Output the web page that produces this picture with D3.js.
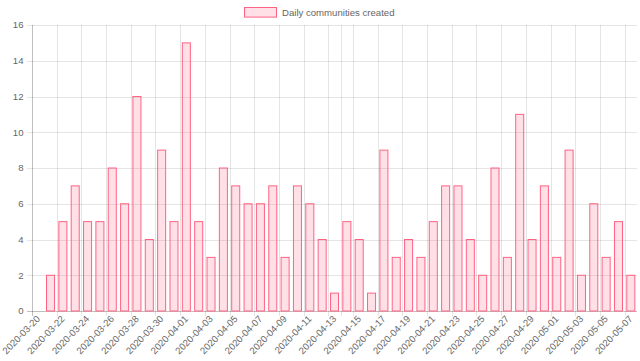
<!DOCTYPE html>
<html>
<head>
<meta charset="utf-8">
<script src="https://cdn.jsdelivr.net/npm/d3@7"></script>
<style>
  html, body { margin: 0; padding: 0; background: #fff; }
  svg { display: block; font-family: "Liberation Sans", Arial, Helvetica, sans-serif; }
</style>
</head>
<body>
<svg id="chart" width="640" height="361"></svg>
<script>
// ---- data ----
const dates = [
  "2020-03-20","2020-03-21","2020-03-22","2020-03-23","2020-03-24","2020-03-25","2020-03-26",
  "2020-03-27","2020-03-28","2020-03-29","2020-03-30","2020-03-31","2020-04-01","2020-04-02",
  "2020-04-03","2020-04-04","2020-04-05","2020-04-06","2020-04-07","2020-04-08","2020-04-09",
  "2020-04-10","2020-04-11","2020-04-12","2020-04-13","2020-04-14","2020-04-15","2020-04-16",
  "2020-04-17","2020-04-18","2020-04-19","2020-04-20","2020-04-21","2020-04-22","2020-04-23",
  "2020-04-24","2020-04-25","2020-04-26","2020-04-27","2020-04-28","2020-04-29","2020-04-30",
  "2020-05-01","2020-05-02","2020-05-03","2020-05-04","2020-05-05","2020-05-06","2020-05-07"
];
const values = [
  0, 2, 5, 7, 5, 5, 8,
  6, 12, 4, 9, 5, 15, 5,
  3, 8, 7, 6, 6, 7, 3,
  7, 6, 4, 1, 5, 4, 1,
  9, 3, 4, 3, 5, 7, 7,
  4, 2, 8, 3, 11, 4, 7,
  3, 9, 2, 6, 3, 5, 2
];
const tickDates = dates.filter((d, i) => i % 2 === 0);
const extraGridDates = ["2020-04-14"];
const yTicks = [0, 2, 4, 6, 8, 10, 12, 14, 16];
const seriesName = "Daily communities created";

// ---- layout ----
const plotLeft = 32, plotRight = 637, plotTop = 25, plotBottom = 311;
const tickLen = 5;
const fontSize = 9.6;
const textColor = "#666";
const gridColor = "rgba(0,0,0,0.1)";
const axisColor = "rgba(0,0,0,0.25)";
const fill = "rgba(255,99,132,0.2)";
const stroke = "rgb(255,99,132)";

const svg = d3.select("#chart");

const x = d3.scaleBand().domain(dates).range([plotLeft, plotRight]).paddingInner(0).paddingOuter(0);
const y = d3.scaleLinear().domain([0, 16]).range([plotBottom, plotTop]);

// horizontal grid
svg.append("g").selectAll("line").data(yTicks).join("line")
  .attr("x1", plotLeft - tickLen).attr("x2", plotRight)
  .attr("y1", d => Math.round(y(d)) + 0.5).attr("y2", d => Math.round(y(d)) + 0.5)
  .attr("stroke", d => d === 0 ? axisColor : gridColor).attr("stroke-width", 1);

// vertical grid (at slot left edges of tick dates)
const gridDates = tickDates.concat(extraGridDates);
svg.append("g").selectAll("line").data(gridDates).join("line")
  .attr("x1", d => Math.round(x(d)) + 0.5).attr("x2", d => Math.round(x(d)) + 0.5)
  .attr("y1", plotTop).attr("y2", plotBottom + tickLen)
  .attr("stroke", d => d === dates[0] ? axisColor : gridColor).attr("stroke-width", 1);

// y labels
svg.append("g").selectAll("text").data(yTicks).join("text")
  .attr("x", plotLeft - tickLen - 3.5)
  .attr("y", d => y(d))
  .attr("dy", "0.35em")
  .attr("text-anchor", "end")
  .attr("font-size", fontSize)
  .attr("fill", textColor)
  .text(d => d);

// x labels
svg.append("g").selectAll("text").data(tickDates).join("text")
  .attr("transform", d => `translate(${x(d) + x.bandwidth() / 2},${plotBottom + tickLen + 1}) rotate(-46)`)
  .attr("text-anchor", "end")
  .attr("dy", "0.35em")
  .attr("font-size", fontSize)
  .attr("fill", textColor)
  .text(d => d);

// bars
const barW = x.bandwidth() * 0.65;
svg.append("g").selectAll("rect").data(dates.map((d, i) => ({d, v: values[i]})).filter(o => o.v > 0)).join("rect")
  .attr("x", o => x(o.d) + (x.bandwidth() - barW) / 2)
  .attr("y", o => y(o.v))
  .attr("width", barW)
  .attr("height", o => y(0) - y(o.v))
  .attr("fill", fill)
  .attr("stroke", stroke)
  .attr("stroke-width", 1);

// legend
const legend = svg.append("g");
legend.append("rect")
  .attr("x", 244.5).attr("y", 7.5).attr("width", 32).attr("height", 9.6)
  .attr("fill", fill).attr("stroke", stroke).attr("stroke-width", 1);
legend.append("text")
  .attr("x", 282).attr("y", 12.3).attr("dy", "0.35em")
  .attr("font-size", fontSize).attr("fill", textColor)
  .text(seriesName);
</script>
</body>
</html>
